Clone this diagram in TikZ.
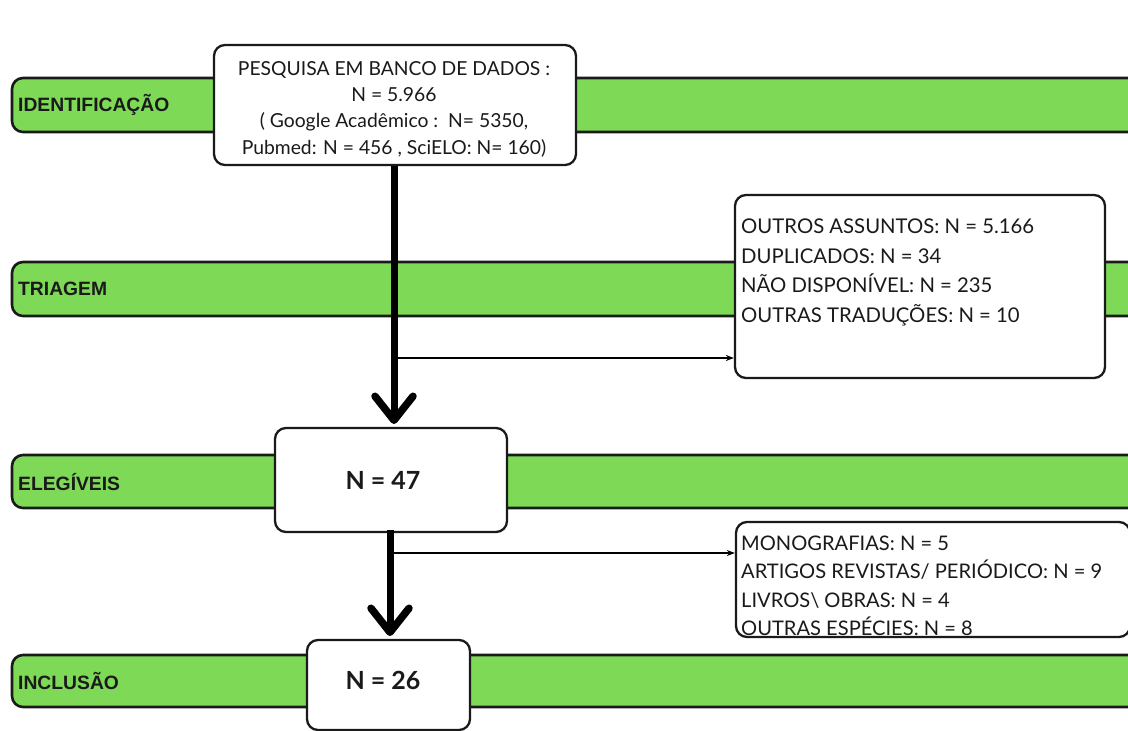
\documentclass[tikz,border=0pt]{standalone}
\usepackage{fontspec}
\setmainfont{Lato}
\newfontfamily\bandfont{Liberation Sans}
\usetikzlibrary{arrows.meta}
\definecolor{bandgreen}{HTML}{7ED957}
\definecolor{edge}{HTML}{1A1A1A}
\tikzset{
  band/.style={draw=edge, fill=bandgreen, line width=2.6pt, rounded corners=11pt},
  bandlabel/.style={anchor=west, inner sep=0pt, font=\bandfont\bfseries\fontsize{19.3}{21}\selectfont, text=edge},
  boxw/.style={draw=edge, fill=white, line width=2.3pt, rounded corners=11pt, inner sep=0pt},
  boxtext/.style={inner sep=0pt, text=edge, font=\fontsize{19.3}{26.3}\selectfont, align=left},
  listtext/.style={boxtext, anchor=north west},
  bignum/.style={inner sep=0pt, text=edge, font=\bfseries\fontsize{25}{28}\selectfont},
  thickarrow/.style={line width=7pt, draw=black, -{Straight Barb[length=24pt, width=38pt, line width=7.5pt, round]}},
  thinarrow/.style={line width=2pt, draw=black, -{Stealth[length=8pt, width=6pt]}}
}
\begin{document}
\begin{tikzpicture}[x=1pt, y=-1pt]
\useasboundingbox (0,0) rectangle (1128,731);
\fill[white] (0,0) rectangle (1128,731);
% bands
\draw[band] (12,78) rectangle (1145,132);
\draw[band] (12,262) rectangle (1145,316);
\draw[band] (12,455) rectangle (1145,508);
\draw[band] (12,655) rectangle (1145,707);
\node[bandlabel] (lid) at (18,105) {IDENTIFICAÇÃO};
\node[bandlabel] (ltr) at (18,289) {TRIAGEM};
\node[bandlabel] (lel) at (18,482) {ELEGÍVEIS};
\node[bandlabel] (lin) at (18,681) {INCLUSÃO};
% boxes
\node[boxw, minimum width=362pt, minimum height=120pt] (b1) at (395,105) {};
\node[boxtext, align=center] (t1) at (394,109) {PESQUISA EM BANCO DE DADOS :\\N = 5.966\\( Google Acadêmico :\ \ N= 5350,\\Pubmed: N = 456 , SciELO: N= 160)};
\node[boxw, minimum width=370pt, minimum height=183pt] (b2) at (920,286.5) {};
\node[listtext, font=\fontsize{20.3}{29.5}\selectfont] (t2) at (741,219) {OUTROS ASSUNTOS: N = 5.166\\DUPLICADOS: N = 34\\NÃO DISPONÍVEL: N = 235\\OUTRAS TRADUÇÕES: N = 10};
\node[boxw, minimum width=232pt, minimum height=104pt] (b3) at (391,480) {};
\node[bignum] (t3) at (383,480) {N = 47};
\node[boxw, minimum width=394pt, minimum height=115pt] (b4) at (933,579.5) {};
\node[listtext, font=\fontsize{20.1}{28.2}\selectfont] (t4) at (741,536) {MONOGRAFIAS: N = 5\\ARTIGOS REVISTAS/ PERIÓDICO: N = 9\\LIVROS\textbackslash{} OBRAS: N = 4\\OUTRAS ESPÉCIES: N = 8};
\node[boxw, minimum width=163pt, minimum height=90pt] (b5) at (388.5,685) {};
\node[bignum] (t5) at (383,680) {N = 26};
% arrows
\coordinate (s1) at ([xshift=-1pt]b1.south);
\coordinate (e1) at (394,424);
\draw[thickarrow] (s1) -- (e1);
\coordinate (j1) at (394,358);
\draw[thinarrow] (j1) -- (b2.west |- j1);
\coordinate (s2) at (390,530);
\coordinate (e2) at (390,636);
\draw[thickarrow] (s2) -- (e2);
\coordinate (j2) at (390,553);
\draw[thinarrow] (j2) -- (b4.west |- j2);
\end{tikzpicture}
\end{document}
